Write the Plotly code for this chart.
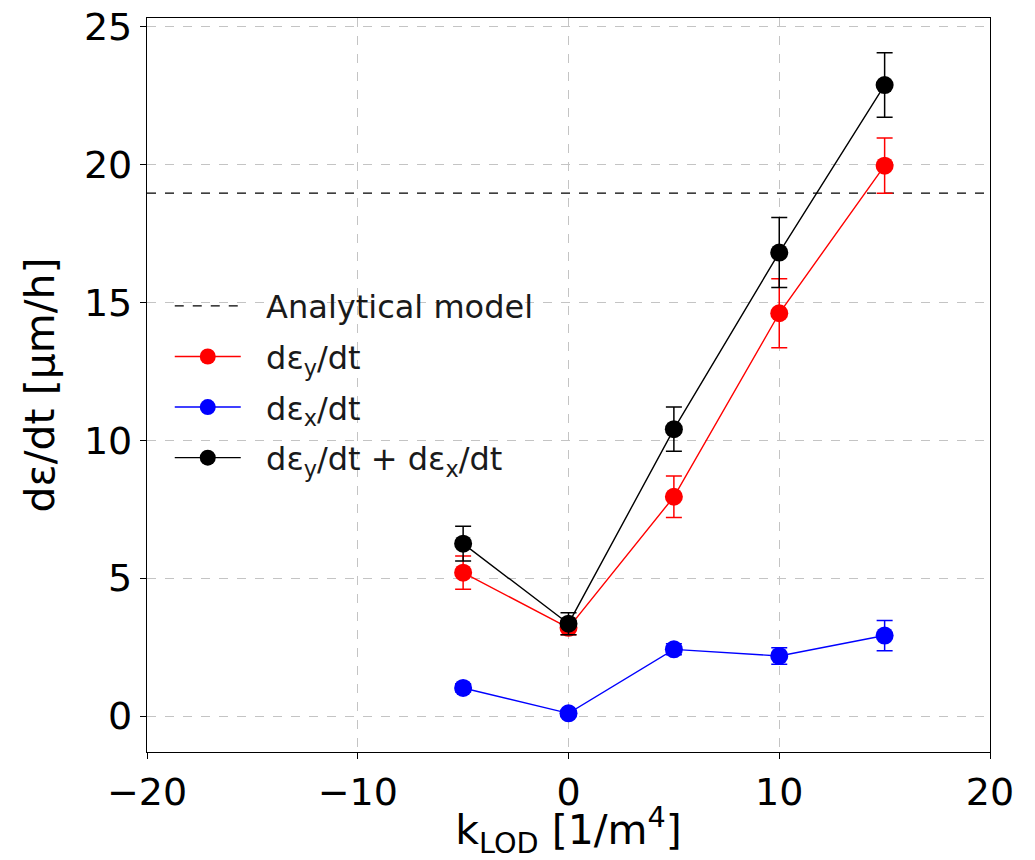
import plotly.graph_objects as go

k_lod = [-5, 0, 5, 10, 15]
deps_y = [5.2, 3.2, 7.95, 14.6, 19.95]
deps_y_err = [0.6, 0.25, 0.75, 1.25, 1.0]
deps_x = [1.02, 0.1, 2.42, 2.18, 2.92]
deps_x_err = [0.15, 0.1, 0.2, 0.3, 0.55]
deps_sum = [6.25, 3.35, 10.4, 16.8, 22.87]
deps_sum_err = [0.63, 0.4, 0.8, 1.27, 1.17]
analytical = 18.95
x_range = [-20, 20]
y_range = [-1.3, 25.3]
x_ticks = [-20, -10, 0, 10, 20]
x_ticktext = ["−20", "−10", "0", "10", "20"]
y_ticks = [0, 5, 10, 15, 20, 25]

font_family = "DejaVu Sans"
pad = "\u00a0\u00a0"

fig = go.Figure()

fig.add_trace(go.Scatter(
    x=x_range, y=[analytical, analytical], mode="lines",
    line=dict(color="black", width=1.2, dash="dash"),
    name=pad + "Analytical model", legendgroup="a"))

def add_series(y, err, color, name, grp):
    fig.add_trace(go.Scatter(
        x=k_lod, y=y, mode="lines+markers",
        line=dict(color=color, width=1.4),
        marker=dict(color=color, size=18),
        error_y=dict(type="data", array=err, visible=True, color=color,
                     thickness=1.5, width=8),
        name=pad + name, legendgroup=grp))

add_series(deps_y, deps_y_err, "red", "dε<sub>y</sub>/dt", "b")
add_series(deps_x, deps_x_err, "blue", "dε<sub>x</sub>/dt", "c")
add_series(deps_sum, deps_sum_err, "black", "dε<sub>y</sub>/dt + dε<sub>x</sub>/dt", "d")

axis_common = dict(
    showline=True, linecolor="black", linewidth=1.2, mirror=True,
    ticks="outside", ticklen=6, tickcolor="black",
    showgrid=True, gridcolor="#c4c4c4", griddash="dash", gridwidth=1,
    zeroline=False, automargin=False,
    tickfont=dict(size=38, color="black", family=font_family),
)

fig.update_xaxes(range=x_range, tickvals=x_ticks, ticktext=x_ticktext,
                 title=dict(text="k<sub>LOD</sub> [1/m<sup>4</sup>]",
                            font=dict(size=41, color="black", family=font_family),
                            standoff=8),
                 **axis_common)
fig.update_yaxes(range=y_range, tickvals=y_ticks,
                 title=dict(text="dε/dt [μm/h]",
                            font=dict(size=41, color="black", family=font_family),
                            standoff=16),
                 **axis_common)

fig.update_layout(
    width=1035, height=860,
    margin=dict(l=147, r=45, t=18, b=108),
    plot_bgcolor="white", paper_bgcolor="white",
    font=dict(family=font_family, color="black"),
    legend=dict(x=0.027, y=0.645, xanchor="left", yanchor="top",
                bgcolor="rgba(255,255,255,0)", borderwidth=0,
                font=dict(size=32, color="#1a1a1a", family=font_family),
                traceorder="grouped", tracegroupgap=6, itemwidth=66),
)

fig.write_html("out.html")
